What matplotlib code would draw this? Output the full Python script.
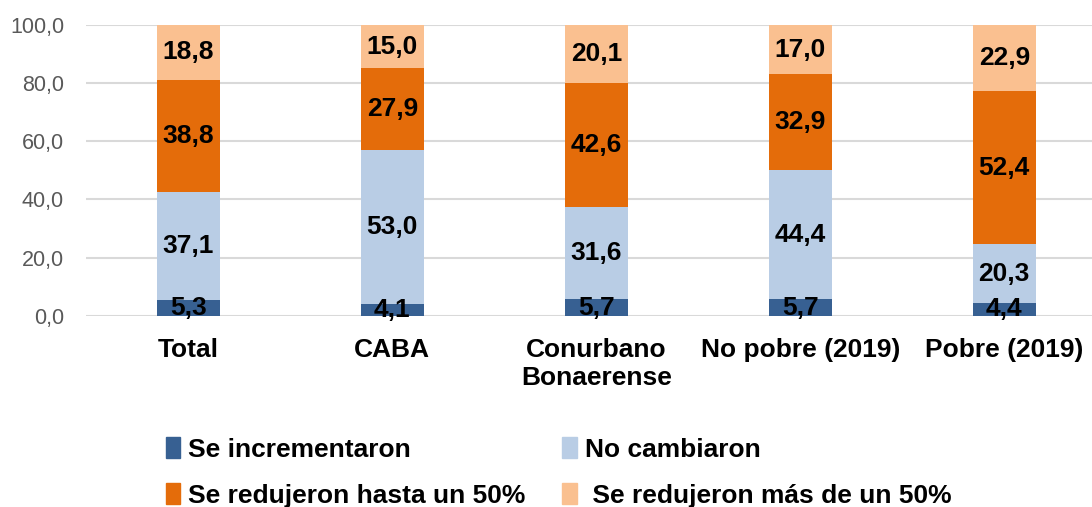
import numpy as np
import matplotlib.pyplot as plt
from matplotlib.patches import Patch

plt.rcParams['font.family'] = ['Liberation Sans', 'DejaVu Sans']

categorias = ['Total', 'CABA', 'Conurbano\nBonaerense', 'No pobre (2019)', 'Pobre (2019)']
series = ['Se incrementaron', 'No cambiaron', 'Se redujeron hasta un 50%', ' Se redujeron más de un 50%']
incrementaron = [5.3, 4.1, 5.7, 5.7, 4.4]
no_cambiaron = [37.1, 53.0, 31.6, 44.4, 20.3]
hasta_50 = [38.8, 27.9, 42.6, 32.9, 52.4]
mas_50 = [18.8, 15.0, 20.1, 17.0, 22.9]
colores = ['#376092', '#B9CDE5', '#E46C0A', '#FAC090']

fig = plt.figure(figsize=(10.92, 5.07), dpi=100)
ax = fig.add_axes([0.079, 0.377, 0.921, 0.574])

x = np.arange(len(categorias))
base = np.zeros(len(categorias))
for valores, color in zip([incrementaron, no_cambiaron, hasta_50, mas_50], colores):
    valores = np.array(valores)
    ax.bar(x, valores, 0.31, bottom=base, color=color, zorder=2)
    for xi, b, v in zip(x, base, valores):
        ax.text(xi, b + v / 2, f"{v:.1f}".replace('.', ','), ha='center', va='center',
                fontsize=19, fontweight='bold', color='black', zorder=3)
    base += valores

ax.set_xlim(-0.5, 4.43)
ax.set_ylim(0, 100)
ax.set_yticks(np.arange(0, 101, 20))
ax.set_yticklabels([f"{v:.1f}".replace('.', ',') for v in np.arange(0, 101, 20)])
ax.set_xticks(x)
ax.set_xticklabels(categorias, fontsize=19, fontweight='bold', linespacing=1.2)
ax.tick_params(axis='y', length=0, labelsize=15.5, labelcolor='#595959', pad=16)
ax.tick_params(axis='x', length=0, pad=16)
ax.grid(axis='y', color='#D9D9D9', linewidth=1.5, zorder=0)
for s in ax.spines.values():
    s.set_visible(False)

# orden para que la leyenda se llene por filas
orden = [0, 2, 1, 3]
handles = [Patch(color=colores[i]) for i in orden]
etiquetas = [series[i] for i in orden]
fig.legend(handles, etiquetas, loc='lower left', bbox_to_anchor=(0.13, -0.048), ncol=2,
           frameon=False, prop={'weight': 'bold', 'size': 19}, handlelength=0.55,
           handleheight=0.8, handletextpad=0.3, columnspacing=1.4, labelspacing=0.82)

plt.savefig('out.png', dpi=100)
